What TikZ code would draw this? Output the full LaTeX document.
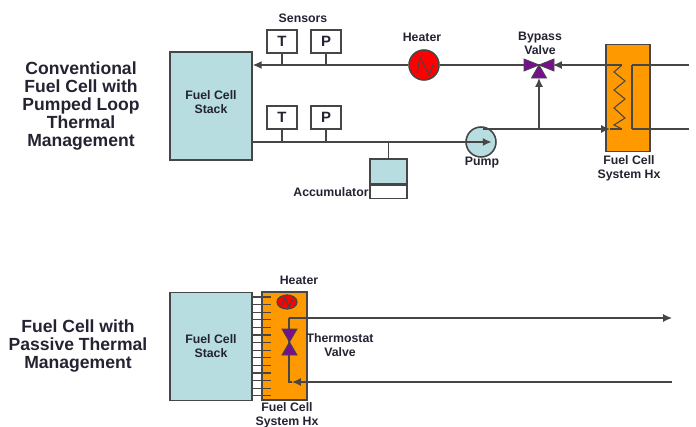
\documentclass[tikz,border=0pt]{standalone}
\usepackage{fontspec}
\setmainfont{Liberation Sans}
\usepackage{xcolor}
\usetikzlibrary{arrows.meta, positioning, shapes.geometric}
\definecolor{stackteal}{RGB}{183,221,224}
\definecolor{hxorange}{RGB}{255,153,0}
\definecolor{valvepurple}{RGB}{118,16,140}
\definecolor{pipegray}{RGB}{70,70,70}
\definecolor{labelink}{RGB}{35,35,50}
\tikzset{
  pipe/.style={draw=pipegray, line width=0.7pt},
  flow/.style={pipe, -{Latex[length=5pt,width=4.5pt]}},
  stackbox/.style={draw=pipegray, line width=0.9pt, fill=stackteal, minimum width=1.64cm, minimum height=2.16cm,
        inner sep=0pt, align=center, font=\fontsize{7}{8}\selectfont\bfseries\color{labelink}},
  sensorbox/.style={draw=pipegray, line width=0.7pt, fill=white, minimum width=0.6cm, minimum height=0.46cm,
        inner sep=0pt, font=\fontsize{8.5}{9}\selectfont\bfseries\color{labelink}},
  tag/.style={align=center, inner sep=0pt, font=\fontsize{7}{8}\selectfont\bfseries\color{labelink}},
  titletext/.style={align=center, inner sep=0pt, font=\fontsize{10}{10.2}\selectfont\bfseries\color{labelink}},
  valvepart/.style={draw=pipegray, line width=0.5pt, fill=valvepurple},
  coil/.style={draw=pipegray, line width=0.6pt},
}
\begin{document}
\begin{tikzpicture}[x=0.02cm, y=-0.02cm]
    \useasboundingbox (0,0) rectangle (696,426);

    % pumped loop
    \node[titletext] (titleA) at (81,106) {Conventional\\Fuel Cell with\\Pumped Loop\\Thermal\\Management};
    \node[stackbox] (stackA) at (211,106) {};
    \node[tag] (stackAtext) at (211,102) {Fuel Cell\\Stack};
    \node[draw=pipegray, line width=0.9pt, fill=hxorange, minimum width=0.88cm, minimum height=2.14cm, inner sep=0pt] (hxA) at (628,98) {};

    \coordinate (bypass) at (539,65);
    \coordinate (hxTopIn) at (622,65);
    \coordinate (hxTopOut) at (632,65);
    \coordinate (hxLowIn) at (622,129);
    \coordinate (hxLowOut) at (632,129);
    \coordinate (extTop) at (689,65);
    \coordinate (extLow) at (689,129);
    \coordinate (pumpTop) at (483,129);
    \coordinate (tee) at (539,129);
    \coordinate (bypassFoot) at (539,78);
    \coordinate (hxArrow) at (610,129);
    \coordinate (bypassArrow) at (553,65);

    \node[circle, draw=pipegray, line width=0.9pt, fill=red, minimum size=0.6cm, inner sep=0pt] (heaterA) at (424,65) {};
    \node[circle, draw=pipegray, line width=0.9pt, fill=stackteal, minimum size=0.6cm, inner sep=0pt] (pump) at (481,142) {};
    \draw[coil] (heaterA) ++(-7,8) -- ++(3,-16) -- ++(9,18) -- ++(5,-12);

    \draw[flow] (heaterA) -- (stackA.east |- heaterA);
    \draw[pipe] (bypass) -- (heaterA);
    \draw[flow] (hxTopIn) -- (bypassArrow);
    \draw[pipe] (bypassArrow) -- (bypass);
    \draw[pipe] (stackA.east |- pump) -- (pump.west);
    \draw[flow] (pump.west) -- ([xshift=6pt]pump.center);
    \draw[flow] (pumpTop) -- (hxArrow);
    \draw[pipe] (hxArrow) -- (hxLowIn);
    \draw[flow] (tee) -- (bypassFoot);
    \draw[pipe] (hxTopOut) -- (hxLowOut);
    \draw[pipe] (hxTopOut) -- (extTop);
    \draw[pipe] (hxLowOut) -- (extLow);
    \draw[coil] (hxTopIn) -- (614,72) -- (625,81) -- (614,90) -- (625,99) -- (614,108) -- (625,118) -- (614,125) -- (hxLowIn);

    \draw[valvepart] (bypass) -- ++(-15,-6) -- ++(0,12) -- cycle;
    \draw[valvepart] (bypass) -- ++(15,-6) -- ++(0,12) -- cycle;
    \draw[valvepart] (bypass) -- ++(-7.5,13) -- ++(15,0) -- cycle;

    % sensors
    \node[sensorbox] (tempA) at (282,41.5) {T};
    \node[sensorbox] (presA) at (326,41.5) {P};
    \node[sensorbox] (tempB) at (282,117.5) {T};
    \node[sensorbox] (presB) at (326,117.5) {P};
    \draw[pipe] (tempA) -- (tempA |- heaterA);
    \draw[pipe] (presA) -- (presA |- heaterA);
    \draw[pipe] (tempB) -- (tempB |- pump);
    \draw[pipe] (presB) -- (presB |- pump);

    % accumulator
    \node[draw=pipegray, line width=0.7pt, fill=stackteal, minimum width=0.74cm, minimum height=0.5cm, inner sep=0pt] (accTop) at (388.5,171.5) {};
    \node[draw=pipegray, line width=0.7pt, fill=white, minimum width=0.74cm, minimum height=0.26cm, inner sep=0pt, below=0pt of accTop] (accLow) {};
    \draw[pipe] (accTop) -- (accTop |- pump);

    \node[tag] (lblSensors) at (303,18) {Sensors};
    \node[tag] (lblHeaterA) at (422,37) {Heater};
    \node[tag] (lblBypass) at (540,43) {Bypass\\Valve};
    \node[tag] (lblPump) at (482,163) {Pump};
    \node[tag] (lblHxA) at (629,168) {Fuel Cell\\System Hx};
    \node[tag] (lblAcc) at (331,192) {Accumulator};

    % passive
    \node[titletext] (titleB) at (78,346) {Fuel Cell with\\Passive Thermal\\Management};
    \node[stackbox] (stackB) at (211,346.5) {Fuel Cell\\Stack};
    \node[draw=pipegray, line width=0.9pt, fill=hxorange, minimum width=0.9cm, minimum height=2.16cm, inner sep=0pt] (hxB) at (284.5,346) {};

    \foreach \fy in {0,...,13}
      \draw[pipe, line width=0.6pt] (stackB.east |- 0,297+7.6*\fy) -- ++(18,0);

    \node[ellipse, draw=pipegray, line width=0.7pt, fill=red, minimum width=0.4cm, minimum height=0.28cm, inner sep=0pt] (heaterB) at (287,302) {};
    \draw[coil] (heaterB) ++(-6,5) -- ++(4,-10) -- ++(4,10) -- ++(4,-8);

    \coordinate (thermo) at (289.5,342);
    \coordinate (cornerTop) at (289,318);
    \coordinate (cornerLow) at (289,382);
    \coordinate (extTopB) at (672,318);
    \coordinate (extLowB) at (672,382);
    \coordinate (lowArrow) at (292,382);

    \draw[flow] (cornerTop) -- (extTopB);
    \draw[flow] (extLowB) -- (lowArrow);
    \draw[pipe] (cornerTop) -- (cornerLow) -- (lowArrow);
    \draw[valvepart] (thermo) -- ++(-7.5,-13) -- ++(15,0) -- cycle;
    \draw[valvepart] (thermo) -- ++(-7.5,13) -- ++(15,0) -- cycle;

    \node[tag] (lblHeaterB) at (299,280) {Heater};
    \node[tag] (lblThermo) at (340,345) {Thermostat\\Valve};
    \node[tag] (lblHxB) at (287,415) {Fuel Cell\\System Hx};
\end{tikzpicture}
\end{document}
